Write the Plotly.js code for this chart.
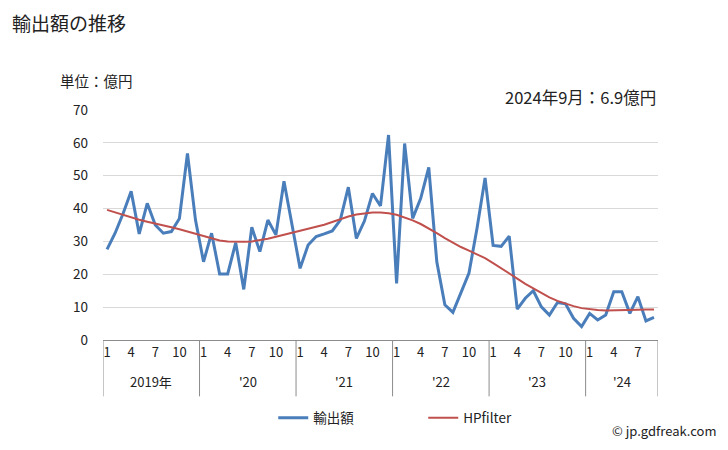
<!DOCTYPE html>
<html>
<head>
<meta charset="utf-8">
<script src="https://cdn.plot.ly/plotly-3.0.1.min.js"></script>
<style>html,body{margin:0;padding:0;background:#fff;}#chart{width:728px;height:450px;}</style>
</head>
<body>
<div id="chart"></div>
<script>
const years = ["2019", "2020", "2021", "2022", "2023", "2024"];
const yearLabels = ["2019年", "'20", "'21", "'22", "'23", "'24"];
const monthsPerYear = [12, 12, 12, 12, 12, 9];
const tickMonths = [1, 4, 7, 10];

const exports = [
  27.6, 32.5, 38.5, 45.3, 32.3, 41.6, 35.0, 32.5, 33.0, 37.0, 56.8, 36.5,
  23.8, 32.5, 20.1, 20.1, 29.6, 15.4, 34.3, 26.9, 36.5, 32.0, 48.3, 35.5,
  21.8, 28.9, 31.5, 32.3, 33.2, 36.5, 46.5, 30.9, 36.2, 44.6, 40.8, 62.4,
  17.2, 59.8, 37.0, 43.1, 52.5, 23.8, 10.7, 8.4, 14.7, 20.4, 34.0, 49.3,
  28.8, 28.5, 31.6, 9.4, 12.7, 15.0, 10.1, 7.6, 11.4, 11.0, 6.6, 4.1,
  8.1, 6.1, 7.6, 14.7, 14.7, 8.1, 13.2, 5.8, 6.9
];
const hpfilter = [
  39.6, 38.8, 38.0, 37.2, 36.6, 36.0, 35.5, 34.9, 34.3, 33.7, 33.0, 32.2,
  31.5, 30.8, 30.3, 30.0, 29.9, 29.9, 30.0, 30.3, 30.8, 31.4, 32.0, 32.6,
  33.1, 33.7, 34.4, 35.1, 35.9, 36.8, 37.6, 38.2, 38.6, 38.8, 38.8, 38.6,
  38.1, 37.3, 36.4, 35.3, 34.0, 32.5, 31.0, 29.6, 28.3, 27.2, 26.1, 24.9,
  23.4, 21.9, 20.3, 18.7, 17.1, 15.7, 14.3, 13.0, 11.9, 11.0, 10.3, 9.7,
  9.3, 9.1, 9.0, 9.0, 9.0, 9.1, 9.2, 9.3, 9.3
];

const categories = [];
const tickvals = [];
const ticktext = [];
years.forEach((y, yi) => {
  for (let m = 1; m <= monthsPerYear[yi]; m++) {
    const c = y + "-" + String(m).padStart(2, "0");
    categories.push(c);
    if (tickMonths.includes(m)) { tickvals.push(c); ticktext.push(String(m)); }
  }
});

const FONT = '"Noto Sans CJK JP", "Noto Sans", sans-serif';
const shapes = [];
const annotations = [];
let start = 0;
const boxBottom = -0.245;
years.forEach((y, yi) => {
  shapes.push({type: 'line', xref: 'x', yref: 'paper', x0: start - 0.5, x1: start - 0.5, y0: 0, y1: boxBottom, line: {color: '#8c8c8c', width: 1}});
  annotations.push({xref: 'x', yref: 'paper', x: start + (monthsPerYear[yi] - 1) / 2, y: -0.182, text: yearLabels[yi], showarrow: false, xanchor: 'center', yanchor: 'middle', font: {size: 13, color: '#222'}});
  start += monthsPerYear[yi];
});
shapes.push({type: 'line', xref: 'x', yref: 'paper', x0: start - 0.5, x1: start - 0.5, y0: 0, y1: boxBottom, line: {color: '#8c8c8c', width: 1}});

annotations.push({xref: 'paper', yref: 'paper', x: -93/555, y: 1 + 88/230, text: '輸出額の推移', showarrow: false, xanchor: 'left', yanchor: 'middle', font: {size: 19, color: '#222'}});
annotations.push({xref: 'paper', yref: 'paper', x: -45/555, y: 1 + 30/230, text: '単位：億円', showarrow: false, xanchor: 'left', yanchor: 'middle', font: {size: 14.5, color: '#222'}});
annotations.push({xref: 'paper', yref: 'paper', x: 1, y: 1 + 13/230, text: '2024年9月：6.9億円', showarrow: false, xanchor: 'right', yanchor: 'middle', font: {size: 16.5, color: '#222'}});
annotations.push({xref: 'paper', yref: 'paper', x: 1 + 61/555, y: -90/230, text: '© jp.gdfreak.com', showarrow: false, xanchor: 'right', yanchor: 'middle', font: {size: 13, color: '#222'}});

const traces = [
  {x: categories, y: exports, type: 'scatter', mode: 'lines', name: '輸出額', line: {color: '#4a7ebb', width: 3}},
  {x: categories, y: hpfilter, type: 'scatter', mode: 'lines', name: 'HPfilter', line: {color: '#c0504d', width: 2}}
];

const layout = {
  width: 728, height: 450,
  margin: {l: 103, r: 70, t: 110, b: 110},
  paper_bgcolor: '#fff', plot_bgcolor: '#fff',
  font: {family: FONT, size: 13, color: '#222'},
  showlegend: true,
  legend: {orientation: 'h', x: 0.577, xanchor: 'center', y: -78/230, yanchor: 'middle', font: {size: 13.5}, entrywidth: 105, entrywidthmode: 'pixels', itemwidth: 30},
  xaxis: {type: 'category', categoryorder: 'array', categoryarray: categories, range: [-0.5, categories.length - 0.5],
    tickvals: tickvals, ticktext: ticktext, ticks: '', showgrid: false, showline: true, linecolor: '#8c8c8c', linewidth: 1,
    tickfont: {size: 13}, zeroline: false, fixedrange: true},
  yaxis: {range: [0, 70], dtick: 10, showgrid: true, gridcolor: '#d9d9d9', gridwidth: 1, zeroline: false, showline: false,
    ticks: '', tickfont: {size: 13.5}, ticklabelstandoff: 14},
  shapes: shapes,
  annotations: annotations
};

Plotly.newPlot('chart', traces, layout, {displayModeBar: false, staticPlot: true});
</script>
</body>
</html>
